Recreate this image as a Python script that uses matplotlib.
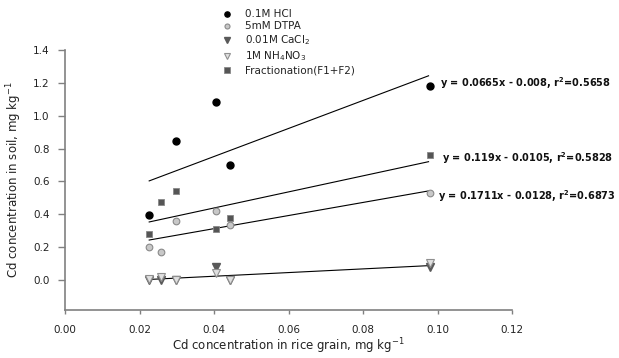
import matplotlib
matplotlib.use("Agg")
import matplotlib.pyplot as plt

# ---- data ----
x_vals = [0.0226, 0.0258, 0.0299, 0.0406, 0.0444, 0.0979]
hcl_x = [0.0226, 0.0299, 0.0406, 0.0444, 0.0979]
hcl_y = [0.396, 0.846, 1.082, 0.700, 1.181]
dtpa_y = [0.199, 0.168, 0.359, 0.420, 0.333, 0.528]
cacl2_y = [0.000, 0.000, 0.000, 0.081, 0.000, 0.080]
nh4no3_y = [0.008, 0.018, 0.002, 0.040, 0.002, 0.102]
frac_y = [0.278, 0.475, 0.540, 0.308, 0.379, 0.761]

fit_x = [0.0226, 0.0976]
hcl_fit = [0.603, 1.243]
frac_fit = [0.353, 0.720]
dtpa_fit = [0.243, 0.542]
low_fit = [0.003, 0.087]

eq_labels = [
    r"y = 0.0665x - 0.008, r$^{\mathbf{2}}$=0.5658",
    r"y = 0.119x - 0.0105, r$^{\mathbf{2}}$=0.5828",
    r"y = 0.1711x - 0.0128, r$^{\mathbf{2}}$=0.6873",
]
eq_pos_x = [0.1006, 0.1012, 0.1000]
eq_pos_y = [1.201, 0.743, 0.511]

series_labels = ["0.1M HCl", "5mM DTPA", r"0.01M CaCl$_2$",
                 r"1M NH$_4$NO$_3$", "Fractionation(F1+F2)"]

xticks = [0.00, 0.02, 0.04, 0.06, 0.08, 0.10, 0.12]
yticks = [0.0, 0.2, 0.4, 0.6, 0.8, 1.0, 1.2, 1.4]

plt.rcParams['font.family'] = ['DejaVu Sans']
plt.rcParams['mathtext.fontset'] = 'dejavusans'

fig = plt.figure(figsize=(6.19, 3.58), dpi=100)
ax = fig.add_axes([65/619, 48/358, 447/619, 260/358])

axis_col = '#808080'

# regression lines
for fy in [hcl_fit, frac_fit, dtpa_fit, low_fit]:
    ax.plot(fit_x, fy, color='black', lw=0.8, zorder=2)

h1, = ax.plot(hcl_x, hcl_y, 'o', ms=5, mfc='black', mec='black', ls='none', zorder=4)
h2, = ax.plot(x_vals, dtpa_y, 'o', ms=4.8, mfc='#c8c8c8', mec='#8a8a8a', mew=0.8, ls='none', zorder=3)
h3, = ax.plot(x_vals, cacl2_y, 'v', ms=5.5, mfc='#595959', mec='#595959', ls='none', zorder=3)
h4, = ax.plot(x_vals, nh4no3_y, 'v', ms=5.5, mfc='#e0e0e0', mec='#909090', mew=0.8, ls='none', zorder=3)
h5, = ax.plot(x_vals, frac_y, 's', ms=5, mfc='#555555', mec='#888888', mew=0.6, ls='none', zorder=3)

for lab, px, py in zip(eq_labels, eq_pos_x, eq_pos_y):
    ax.text(px, py, lab, fontsize=7, fontweight='bold', va='center', ha='left',
            color='#111111', clip_on=False)

ax.set_xlim(0, 0.12)
ax.set_ylim(-0.183, 1.4)
ax.set_xticks(xticks)
ax.set_xticklabels([f"{t:.2f}" for t in xticks])
ax.set_yticks(yticks)
ax.set_yticklabels([f"{t:.1f}" for t in yticks])

for s in ['top', 'right']:
    ax.spines[s].set_visible(False)
for s in ['left', 'bottom']:
    ax.spines[s].set_color(axis_col)
    ax.spines[s].set_linewidth(1.2)
ax.tick_params(axis='both', labelcolor='#222222', labelsize=7.5, width=1.0)
ax.tick_params(axis='y', length=5, color=axis_col, pad=6)
ax.tick_params(axis='x', length=3, color=axis_col, pad=8)

fig.text(0.5*(65+512)/619, 1 - 346.7/358, r"Cd concentration in rice grain, mg kg$^{-1}$",
         ha='center', va='center', fontsize=8.5, color='#222222')
fig.text(14/619, 1 - 180/358, r"Cd concentration in soil, mg kg$^{-1}$",
         ha='center', va='center', rotation=90, fontsize=8.5, color='#222222')

leg = fig.legend([h1, h2, h3, h4, h5], series_labels, loc='upper left',
                 bbox_to_anchor=(214/619, 1 - 2/358), frameon=False, fontsize=7.5,
                 handlelength=1.0, handletextpad=1.3, labelspacing=0.2,
                 borderpad=0.2, markerscale=0.75)
for t in leg.get_texts():
    t.set_color('#222222')

fig.savefig("out.png", dpi=100)
